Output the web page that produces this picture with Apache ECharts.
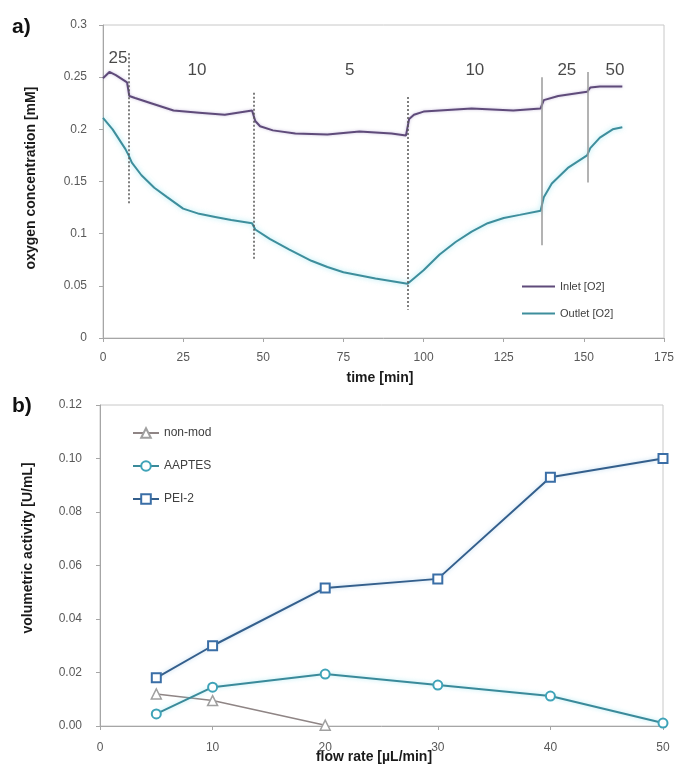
<!DOCTYPE html>
<html><head><meta charset="utf-8">
<script src="https://cdn.jsdelivr.net/npm/echarts@6/dist/echarts.min.js"></script>
<style>html,body{margin:0;padding:0;background:#fff}#c{width:681px;height:772px}</style>
</head><body><div id="c"></div>
<script>
// ---- panel a: oxygen concentration vs time ----
const inletTime = [0,2,4,7.5,8.2,10,15,22,30,38,46.5,47.5,49,53,60,70,80,90,94.5,95.5,97,100,115,128,136.5,137.5,142,151,152,155,162];
const inletO2   = [0.249,0.255,0.252,0.245,0.232,0.230,0.225,0.218,0.216,0.214,0.218,0.208,0.203,0.199,0.196,0.195,0.198,0.196,0.194,0.210,0.214,0.217,0.220,0.218,0.220,0.228,0.232,0.236,0.240,0.241,0.241];
const outletTime = [0,3,7,8,9,12,16,20,25,30,35,40,46.5,47.5,52,58,65,70,75,85,95,100,105,110,115,120,125,130,136.5,137.5,140,145,151,152,155,159,162];
const outletO2   = [0.211,0.200,0.181,0.175,0.168,0.156,0.144,0.135,0.124,0.119,0.116,0.113,0.110,0.104,0.095,0.085,0.074,0.068,0.063,0.057,0.052,0.065,0.080,0.092,0.102,0.110,0.115,0.118,0.122,0.135,0.148,0.163,0.175,0.182,0.192,0.200,0.202];
const switchTime   = [8, 47, 95, 137, 151.3];
const switchTop    = [0.273, 0.235, 0.231, 0.250, 0.255];
const switchBottom = [0.129, 0.075, 0.027, 0.089, 0.149];
const flowLabelText = ['25','10','5','10','25','50'];
const flowLabelTime = [4.7, 29.3, 77, 116, 144.7, 159.7];
const flowLabelConc = [0.268, 0.257, 0.257, 0.257, 0.257, 0.257];
const timeTicks = [0,25,50,75,100,125,150,175];
const concTicks = [0,0.05,0.1,0.15,0.2,0.25,0.3];

// ---- panel b: volumetric activity vs flow rate ----
const flowRate = [5,10,20,30,40,50];
const nonModFlow = [5,10,20];
const nonMod = [0.012,0.0095,0.0003];
const aaptes = [0.0045,0.0145,0.0194,0.0153,0.0112,0.0011];
const pei2   = [0.018,0.030,0.0516,0.055,0.093,0.100];
const flowTicks = [0,10,20,30,40,50];
const activityTicks = [0,0.02,0.04,0.06,0.08,0.10,0.12];

const pair = (xs, ys) => xs.map((x, i) => [x, ys[i]]);
const tickFont = {color:'#595959', fontSize:12, fontFamily:'Liberation Sans'};
const axisLine = {show:true, lineStyle:{color:'#a6a6a6', width:1}};
const axisTick = {show:true, inside:false, length:4, lineStyle:{color:'#a6a6a6'}};

const chart = echarts.init(document.getElementById('c'), null, {renderer:'canvas'});
const switchLines = switchTime.map((t, i) => [
  {coord:[t, switchTop[i]], lineStyle: i < 3 ? {type:[2,2], color:'#555', width:1.5} : {type:'solid', color:'#9a9a9a', width:1.5}},
  {coord:[t, switchBottom[i]]}
]);

chart.setOption({
  animation:false,
  backgroundColor:'#fff',
  textStyle:{fontFamily:'Liberation Sans'},
  grid:[
    {left:103, right:17, top:25, bottom:434, show:true, borderColor:'#c8c8c8', borderWidth:1},
    {left:100, right:18, top:405, bottom:46, show:true, borderColor:'#c8c8c8', borderWidth:1}
  ],
  xAxis:[
    {gridIndex:0, type:'value', min:timeTicks[0], max:timeTicks[timeTicks.length-1], interval:25,
     axisLine, axisTick, splitLine:{show:false},
     axisLabel:{...tickFont, margin:14}},
    {gridIndex:1, type:'value', min:flowTicks[0], max:flowTicks[flowTicks.length-1], interval:10,
     axisLine, axisTick, splitLine:{show:false},
     axisLabel:{...tickFont, margin:16}}
  ],
  yAxis:[
    {gridIndex:0, type:'value', min:concTicks[0], max:concTicks[concTicks.length-1], interval:0.05,
     axisLine, axisTick, splitLine:{show:false},
     axisLabel:{...tickFont, margin:16}},
    {gridIndex:1, type:'value', min:activityTicks[0], max:activityTicks[activityTicks.length-1], interval:0.02,
     axisLine, axisTick, splitLine:{show:false},
     axisLabel:{...tickFont, margin:18, formatter:v => v.toFixed(2)}}
  ],
  legend:[
    {data:['Inlet [O2]','Outlet [O2]'], orient:'vertical', left:517, top:276, icon:'rect', itemWidth:33, itemHeight:2, itemGap:16,
     textStyle:{color:'#404040', fontSize:11, fontFamily:'Liberation Sans'}},
    {data:['non-mod','AAPTES','PEI-2'], orient:'vertical', left:127, top:422, itemWidth:26, itemHeight:12, itemGap:21,
     textStyle:{color:'#404040', fontSize:12, fontFamily:'Liberation Sans'}}
  ],
  graphic:[
    {type:'text', left:12, top:17, style:{text:'a)', font:'bold 21px Liberation Sans', fill:'#111'}},
    {type:'text', left:12, top:396, style:{text:'b)', font:'bold 21px Liberation Sans', fill:'#111'}},
    {type:'text', x:31, y:178, rotation:Math.PI/2, style:{text:'oxygen concentration [mM]', font:'bold 14px Liberation Sans', fill:'#1a1a1a', align:'center', verticalAlign:'middle'}},
    {type:'text', x:380, y:378, style:{text:'time [min]', font:'bold 14px Liberation Sans', fill:'#1a1a1a', align:'center', verticalAlign:'middle'}},
    {type:'text', x:28, y:548, rotation:Math.PI/2, style:{text:'volumetric activity [U/mL]', font:'bold 14px Liberation Sans', fill:'#1a1a1a', align:'center', verticalAlign:'middle'}},
    {type:'text', x:374, y:757, style:{text:'flow rate [\u00b5L/min]', font:'bold 14px Liberation Sans', fill:'#1a1a1a', align:'center', verticalAlign:'middle'}}
  ],
  series:[
    {name:'Inlet [O2]', type:'line', xAxisIndex:0, yAxisIndex:0, data:pair(inletTime, inletO2), symbol:'none',
     lineStyle:{color:'#5f4b7a', width:2, shadowColor:'rgba(150,130,190,0.5)', shadowBlur:3}, itemStyle:{color:'#5f4b7a'},
     markLine:{silent:true, symbol:'none', label:{show:false}, data:switchLines}},
    {name:'Outlet [O2]', type:'line', xAxisIndex:0, yAxisIndex:0, data:pair(outletTime, outletO2), symbol:'none',
     lineStyle:{color:'#3e8e9c', width:2, shadowColor:'rgba(120,220,235,0.7)', shadowBlur:5}, itemStyle:{color:'#3e8e9c'}},
    {name:'flow labels', type:'scatter', xAxisIndex:0, yAxisIndex:0, symbolSize:0, silent:true,
     data:flowLabelTime.map((t, i) => ({value:[t, flowLabelConc[i]], label:{formatter:flowLabelText[i]}})),
     label:{show:true, position:'inside', color:'#1a1a1a', fontSize:17, fontFamily:'Liberation Sans'}},
    {name:'non-mod', type:'line', xAxisIndex:1, yAxisIndex:1, data:pair(nonModFlow, nonMod), symbol:'triangle', symbolSize:10,
     lineStyle:{color:'#8f8585', width:1.5}, itemStyle:{color:'#fff', borderColor:'#a0a0a0', borderWidth:1.5}},
    {name:'AAPTES', type:'line', xAxisIndex:1, yAxisIndex:1, data:pair(flowRate, aaptes), symbol:'circle', symbolSize:9,
     lineStyle:{color:'#3a8a9a', width:2, shadowColor:'rgba(120,220,235,0.6)', shadowBlur:4}, itemStyle:{color:'#fff', borderColor:'#3fa3b8', borderWidth:2}},
    {name:'PEI-2', type:'line', xAxisIndex:1, yAxisIndex:1, data:pair(flowRate, pei2), symbol:'rect', symbolSize:9,
     lineStyle:{color:'#345f8c', width:2, shadowColor:'rgba(140,190,230,0.6)', shadowBlur:4}, itemStyle:{color:'#fff', borderColor:'#3a6ea6', borderWidth:2}}
  ]
});
</script></body></html>
